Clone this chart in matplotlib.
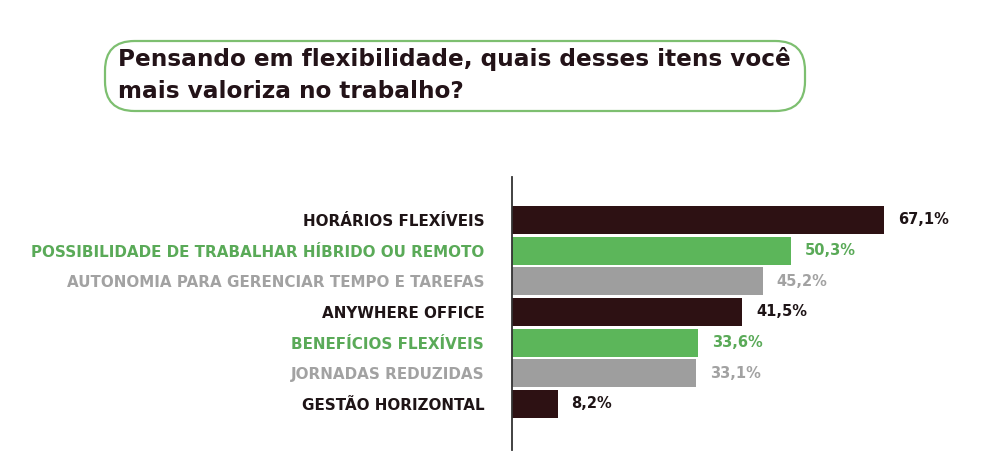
import matplotlib
matplotlib.use("Agg")
import matplotlib.pyplot as plt
from matplotlib.patches import FancyBboxPatch

categories = [
    "HORÁRIOS FLEXÍVEIS",
    "POSSIBILIDADE DE TRABALHAR HÍBRIDO OU REMOTO",
    "AUTONOMIA PARA GERENCIAR TEMPO E TAREFAS",
    "ANYWHERE OFFICE",
    "BENEFÍCIOS FLEXÍVEIS",
    "JORNADAS REDUZIDAS",
    "GESTÃO HORIZONTAL",
]
values = [67.1, 50.3, 45.2, 41.5, 33.6, 33.1, 8.2]
value_labels = ["67,1%", "50,3%", "45,2%", "41,5%", "33,6%", "33,1%", "8,2%"]
title = "Pensando em flexibilidade, quais desses itens você\nmais valoriza no trabalho?"

DARK = "#2d1113"
GREEN = "#5cb65a"
GRAY = "#9e9e9e"
bar_colors = [DARK, GREEN, GRAY, DARK, GREEN, GRAY, DARK]
text_colors = ["#1e1416", "#5aaa58", "#a2a2a2", "#1e1416", "#5aaa58", "#a2a2a2", "#1e1416"]

W, H = 984, 466
fig = plt.figure(figsize=(W / 100, H / 100), dpi=100)
fig.patch.set_facecolor("white")

# Title box
box = FancyBboxPatch((105 / W, 1 - 111 / H), (805 - 105) / W, (111 - 41) / H,
                     boxstyle="round,pad=0,rounding_size=0.03",
                     transform=fig.transFigure, facecolor="white",
                     edgecolor="#7dbf70", linewidth=1.6, mutation_aspect=W / H)
fig.patches.append(box)
fig.text(118 / W, 1 - 75 / H, title, ha="left", va="center",
         fontsize=16.7, fontweight="bold", color="#231318",
         family="DejaVu Sans", linespacing=1.45)

ax = fig.add_axes([512 / W, 1 - 450 / H, (984 - 512) / W, (450 - 177) / H])
y = list(range(len(categories)))
ax.barh(y, values, height=0.92, color=bar_colors)
ax.set_xlim(0, 472 / 5.55)
ax.set_ylim(7.5, -1.4)

for yi, v, lab, c in zip(y, values, value_labels, text_colors):
    ax.annotate(lab, (v, yi), xytext=(10, 0), textcoords="offset points",
                ha="left", va="center", fontsize=10.5, fontweight="bold", color=c)

ax.set_yticks(y)
ax.set_yticklabels(categories, fontsize=10.9, fontweight="bold")
for t, c in zip(ax.get_yticklabels(), text_colors):
    t.set_color(c)
ax.tick_params(axis="y", length=0, pad=20)
ax.set_xticks([])
for s in ["top", "right", "bottom"]:
    ax.spines[s].set_visible(False)
ax.spines["left"].set_color("#333333")
ax.spines["left"].set_linewidth(1.3)

fig.savefig("out.png", dpi=100, facecolor="white")
